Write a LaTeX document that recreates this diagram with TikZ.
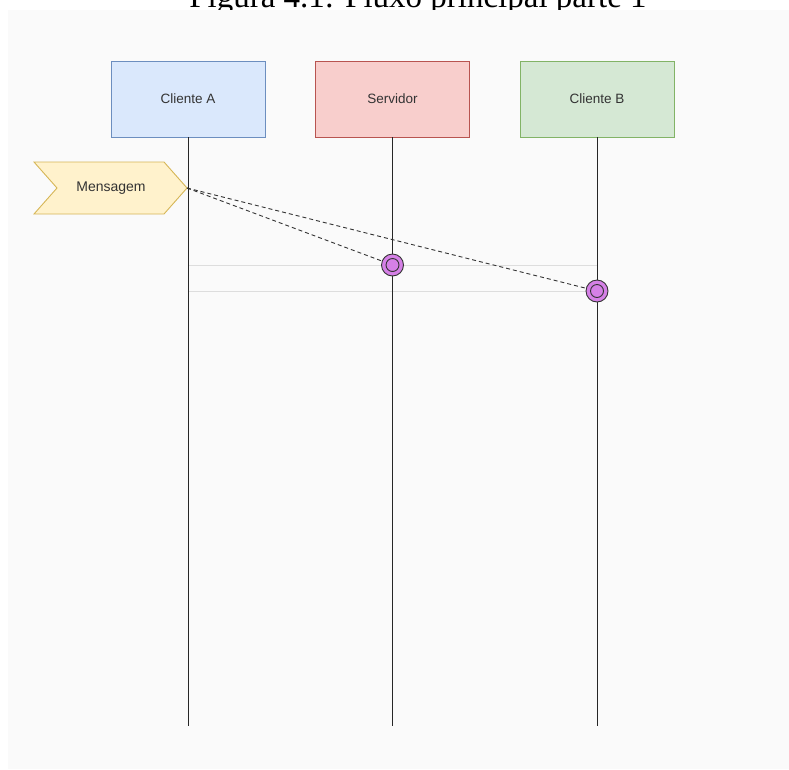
\documentclass[tikz,border=0pt]{standalone}
\usepackage{fontspec}
\setmainfont{Liberation Serif}
\newfontfamily\diagfont{Liberation Sans}
\definecolor{panelbg}{HTML}{FAFAFA}
\definecolor{blueFill}{HTML}{DAE8FC}
\definecolor{blueLine}{HTML}{6C8EBF}
\definecolor{redFill}{HTML}{F8CECC}
\definecolor{redLine}{HTML}{B85450}
\definecolor{greenFill}{HTML}{D5E8D4}
\definecolor{greenLine}{HTML}{82B366}
\definecolor{msgFill}{HTML}{FFF2CC}
\definecolor{msgLine}{HTML}{D6B656}
\definecolor{dotFill}{HTML}{D580E6}
\definecolor{guideGray}{HTML}{DDDDDD}
\begin{document}
\begin{tikzpicture}[x=1pt,y=-1pt,
  actor/.style={draw, line width=0.8pt, minimum width=154pt, minimum height=76pt,
    inner sep=0pt, font=\diagfont\fontsize{13.5}{16}\selectfont, text=black!80},
  lifeline/.style={line width=0.9pt, black!85},
  guide/.style={guideGray, line width=0.8pt},
  msgline/.style={dashed, line width=0.9pt, black!80, dash pattern=on 4pt off 3pt},
  endpoint/.style={circle, draw=black!80, fill=dotFill, line width=0.9pt,
    minimum size=22pt, inner sep=0pt,
    path picture={\draw[black!80, line width=0.9pt]
      (path picture bounding box.center) circle (6.5pt);}}
]
\useasboundingbox (0,0) rectangle (789,769);
\clip (0,0) rectangle (789,769);
% page background
\fill[white] (0,0) rectangle (789,769);
% caption, partly cut by the top edge and by the panel below it
\node[anchor=base, font=\fontsize{33}{38}\selectfont, inner sep=0pt] (caption) at (418,7) {Figura 4.1: Fluxo principal parte 1};
% diagram panel
\fill[panelbg] (8,10) rectangle (789,769);

% participants
\node[actor, fill=blueFill, draw=blueLine] (ca) at (188,99) {Cliente A};
\node[actor, fill=redFill, draw=redLine] (sv) at (392.5,99) {Servidor};
\node[actor, fill=greenFill, draw=greenLine] (cb) at (597,99) {Cliente B};

% lifeline ends
\coordinate (caEnd) at (188,726);
\coordinate (svEnd) at (392.5,726);
\coordinate (cbEnd) at (597,726);

% horizontal guides
\coordinate (g1a) at (188,265);
\coordinate (g1b) at (597,265);
\coordinate (g2a) at (188,291);
\coordinate (g2b) at (597,291);
\draw[guide] (g1a) -- (g1b);
\draw[guide] (g2a) -- (g2b);

% lifelines
\draw[lifeline] (ca.south) -- (caEnd);
\draw[lifeline] (sv.south) -- (svEnd);
\draw[lifeline] (cb.south) -- (cbEnd);

% message flag
\coordinate (tip) at (187,188);
\draw[fill=msgFill, draw=msgLine, line width=0.9pt]
  (34,162) -- (164,162) -- (tip) -- (164,214) -- (34,214) -- (57,188) -- cycle;
\node[font=\diagfont\fontsize{14}{16}\selectfont, text=black!80] (msg) at (111,188) {Mensagem};

% delivery points
\node[endpoint] (rs) at (392.5,265) {};
\node[endpoint] (rb) at (597,291) {};

\draw[msgline] (tip) -- (rs);
\draw[msgline] (tip) -- (rb);
\end{tikzpicture}
\end{document}
